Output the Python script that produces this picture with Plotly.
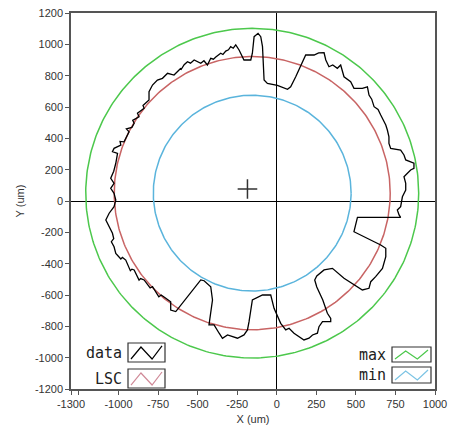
import numpy as np
import plotly.graph_objects as go

# ---- data (um) ----
data_x = [-606, -585, -564, -545, -522, -500, -480, -460, -438, -417, -400, -385, -370, -354, -340,
          -322, -305, -291, -275, -259, -238, -207, -164, -154,
          -143, -118, -101, -90, -80, -59, 4, 68, 88, 120, 183, 236, 265, 299, 310, 330, 354, 383,
          404, 425, 467, 488, 541, 573, 583, 600, 615, 640, 657, 689, 699, 709, 709, 720, 783, 804, 815, 846,
          867, 867, 846, 804, 815, 815, 794, 783, 762, 773, 783, 510, 499, 488, 657, 689, 689, 668,
          625, 594, 583, 541, 425, 352, 299, 253, 240, 253, 291, 320, 341, 341, 289, 267, 257, 226,
          204, 172, 109, 78, 57, 25, -17, -38, -90, -154, -175, -185, -207, -248, -311, -343, -364,
          -396, -428, -406, -417, -459, -480, -606, -638, -670, -670, -701, -730, -745, -785, -800,
          -838, -860, -870, -901, -915, -925, -954, -975, -985,
          -1017, -1028, -1045, -1030, -1038, -1059, -1080, -1059, -1028, -1017, -1028, -1049, -1028,
          -1049, -1030, -1017, -1006, -1038, -1028, -985, -990, -965, -933, -950, -915, -901, -910,
          -870, -880, -838, -845, -807, -807, -785, -754, -722,
          -690, -649, -606, -606]
data_y = [836, 870, 889, 880, 900, 890, 879, 895, 868, 911, 905, 919, 930, 943, 935,
          957, 965, 985, 975, 996, 964, 900, 900, 943,
          1049, 1070, 1049, 985, 772, 751, 738, 713, 729, 793, 932, 932, 945, 946, 900, 857, 868, 847,
          868, 793, 761, 719, 719, 729, 676, 650, 602, 585, 549, 485, 453, 410, 368, 336, 325, 294, 262, 251,
          241, 209, 198, 155, 113, 70, 27, -36, -57, -89, -104, -104, -142, -196, -281, -302, -355, -430,
          -483, -515, -557, -568, -493, -430, -440, -479, -504, -549, -632, -717, -749, -770, -770, -802, -844, -855,
          -876, -887, -844, -812, -823, -781, -685, -600, -600, -632, -770, -823, -855, -876, -855, -876, -844,
          -791, -791, -632, -547, -509, -504, -664, -706, -696, -643, -621, -600, -612, -547, -555,
          -504, -495, -505, -440, -435, -445, -377, -360, -370,
          -334, -292, -260, -240, -206, -164, -121, -78, -36, 6, 49, 81, 113,
          145, 190, 241, 304, 315, 336, 357, 380, 378, 442, 460, 470, 496, 515,
          538, 560, 592, 610, 645, 698, 740, 772, 783,
          815, 804, 847, 836]

center = (-155, 50)          # LSC centre
r_lsc, r_max, r_min = 872, 1052, 625
cross_pt = (-185, 77)

x_ticks = [-1300, -1000, -750, -500, -250, 0, 250, 500, 750, 1000]
y_ticks = list(range(-1200, 1201, 200))

theta = np.linspace(0, 2 * np.pi, 361)

def circ(r):
    return center[0] + r * np.cos(theta), center[1] + r * np.sin(theta)

fig = go.Figure()
for r, col in [(r_max, "#4cc84c"), (r_lsc, "#c86464"), (r_min, "#5ab4dc")]:
    cx, cy = circ(r)
    fig.add_trace(go.Scatter(x=cx, y=cy, mode="lines", line=dict(color=col, width=1.5),
                             showlegend=False, hoverinfo="skip"))
fig.add_trace(go.Scatter(x=data_x, y=data_y, mode="lines", line=dict(color="black", width=1.3),
                         showlegend=False))
fig.add_trace(go.Scatter(x=[cross_pt[0]], y=[cross_pt[1]], mode="markers",
                         marker=dict(symbol="cross-thin", size=14,
                                     line=dict(color="#333333", width=1.5)),
                         showlegend=False))

tickfont = dict(family="Liberation Sans, Arial", size=11, color="#333333")
axis_common = dict(showgrid=False, zeroline=True, zerolinecolor="black", zerolinewidth=1.2,
                   showline=True, linecolor="#555555", linewidth=1.5, mirror=True,
                   ticks="outside", ticklen=4, tickcolor="#555555", tickfont=tickfont,
                   automargin=False)
fig.update_xaxes(range=[-1300, 1000], tickvals=x_ticks, ticktext=[str(v) for v in x_ticks],
                 title=dict(text="X (um)", font=tickfont, standoff=6),
                 minor=dict(tickmode="array", tickvals=[-1250], ticks="outside", ticklen=4,
                            tickcolor="#555555"),
                 **axis_common)
fig.update_yaxes(range=[-1200, 1200], tickvals=y_ticks, ticktext=[str(v) for v in y_ticks],
                 title=dict(text="Y (um)", font=tickfont, standoff=8),
                 **axis_common)

# ---- hand-made legend (paper coordinates) ----
W, H = 451, 428
ml, mr, mt, mb = 71, 16, 13, 39
pw, ph = W - ml - mr, H - mt - mb

def px(x):
    return (x - ml) / pw

def py(y):
    return (H - mb - y) / ph

shapes = []
annotations = []
legend_items = [
    ("data", "black", 128, 165, 343, 362),
    ("LSC", "#d08a98", 128, 165, 369, 388),
    ("max", "#4cc84c", 392, 431, 347, 362),
    ("min", "#7cc4e4", 392, 431, 367, 383),
]
for label, col, x0, x1, y0, y1 in legend_items:
    shapes.append(dict(type="rect", xref="paper", yref="paper",
                       x0=px(x0), x1=px(x1), y0=py(y1), y1=py(y0),
                       line=dict(color="#333333", width=1.2), fillcolor="white"))
    w = x1 - x0
    pts = [(x0 + 3, y1 - 3), (x0 + w * 0.35, y0 + 4), (x0 + w * 0.65, y1 - 3), (x1 - 3, y0 + 3)]
    path = "M " + " L ".join(f"{px(a):.4f},{py(b):.4f}" for a, b in pts)
    shapes.append(dict(type="path", xref="paper", yref="paper", path=path,
                       line=dict(color=col, width=1.2)))
    annotations.append(dict(text=label, xref="paper", yref="paper",
                            x=px(x0 - 4), y=py((y0 + y1) / 2), xanchor="right", yanchor="middle",
                            showarrow=False,
                            font=dict(family="DejaVu Sans Mono", size=15, color="#222222")))

fig.update_layout(width=W, height=H, margin=dict(l=ml, r=mr, t=mt, b=mb),
                  plot_bgcolor="white", paper_bgcolor="white",
                  shapes=shapes, annotations=annotations, showlegend=False)

fig.write_html("out.html")
